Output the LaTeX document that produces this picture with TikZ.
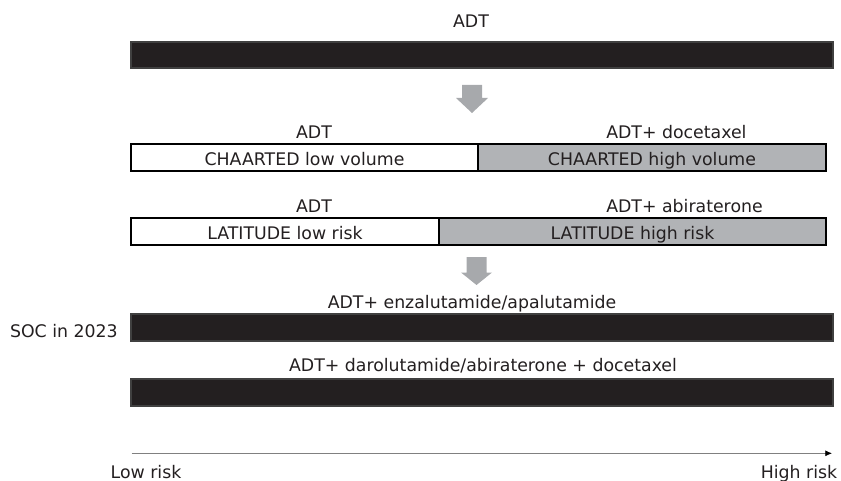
\documentclass[tikz,border=0pt]{standalone}
\usepackage{fontspec}
\setmainfont{DejaVu Sans}
\usetikzlibrary{arrows.meta}
\definecolor{barblack}{HTML}{231F20}
\definecolor{baredge}{HTML}{404040}
\definecolor{boxgray}{HTML}{B1B3B6}
\definecolor{arrgray}{HTML}{A7A9AC}
\definecolor{txt}{HTML}{231F20}
\tikzset{
  x=0.75pt, y=-0.75pt,
  lbl/.style={inner sep=0pt, font=\fontsize{13}{15}\selectfont, text=txt},
  darkbar/.style={fill=barblack, draw=baredge, line width=0.8pt},
  whitebox/.style={fill=white, draw=black, line width=0.9pt},
  graybox/.style={fill=boxgray, draw=black, line width=0.9pt},
  bigarrow/.style={fill=arrgray, draw=none},
  axisline/.style={draw=gray, line width=0.6pt, -{Latex[length=5pt,width=4.5pt,black]}}
}
\begin{document}
\begin{tikzpicture}
\useasboundingbox (0,0) rectangle (841,481);

% top ADT bar
\node[lbl, anchor=base] (t0) at (471,27.5) {ADT};
\draw[darkbar] (131,42) rectangle (833,68);

% arrow 1
\fill[bigarrow] (462,85) -- (482,85) -- (482,98) -- (488,98) -- (472,113) -- (456,98) -- (462,98) -- cycle;

% CHAARTED row
\node[lbl, anchor=base] (t1) at (314,138) {ADT};
\node[lbl, anchor=base west] (t2) at (606,138) {ADT+ docetaxel};
\draw[whitebox] (131,144) rectangle (478,171);
\draw[graybox] (478,144) rectangle (826,171);
\node[lbl, anchor=base] (c1) at (304.5,165) {CHAARTED low volume};
\node[lbl, anchor=base] (c2) at (652,165) {CHAARTED high volume};

% LATITUDE row
\node[lbl, anchor=base] (t3) at (314,212) {ADT};
\node[lbl, anchor=base west] (t4) at (606,212) {ADT+ abiraterone};
\draw[whitebox] (131,218) rectangle (439,245);
\draw[graybox] (439,218) rectangle (826,245);
\node[lbl, anchor=base] (l1) at (285,239) {LATITUDE low risk};
\node[lbl, anchor=base] (l2) at (632.5,239) {LATITUDE high risk};

% arrow 2
\fill[bigarrow] (466.5,257) -- (486.5,257) -- (486.5,272.5) -- (492,272.5) -- (476.5,285) -- (461,272.5) -- (466.5,272.5) -- cycle;

% SOC rows
\node[lbl, anchor=base] (t5) at (472,308) {ADT+ enzalutamide/apalutamide};
\draw[darkbar] (131,314) rectangle (833,341);
\node[lbl, anchor=base east] (soc) at (118,337) {SOC in 2023};
\node[lbl, anchor=base] (t6) at (483,371.5) {ADT+ darolutamide/abiraterone + docetaxel};
\draw[darkbar] (131,379) rectangle (833,406);

% axis
\coordinate (a0) at (131.5,453.3);
\coordinate (a1) at (832,453.3);
\draw[axisline] (a0) -- (a1);
\node[lbl, anchor=base] (lo) at (146,478) {Low risk};
\node[lbl, anchor=base] (hi) at (799,478) {High risk};
\end{tikzpicture}
\end{document}
